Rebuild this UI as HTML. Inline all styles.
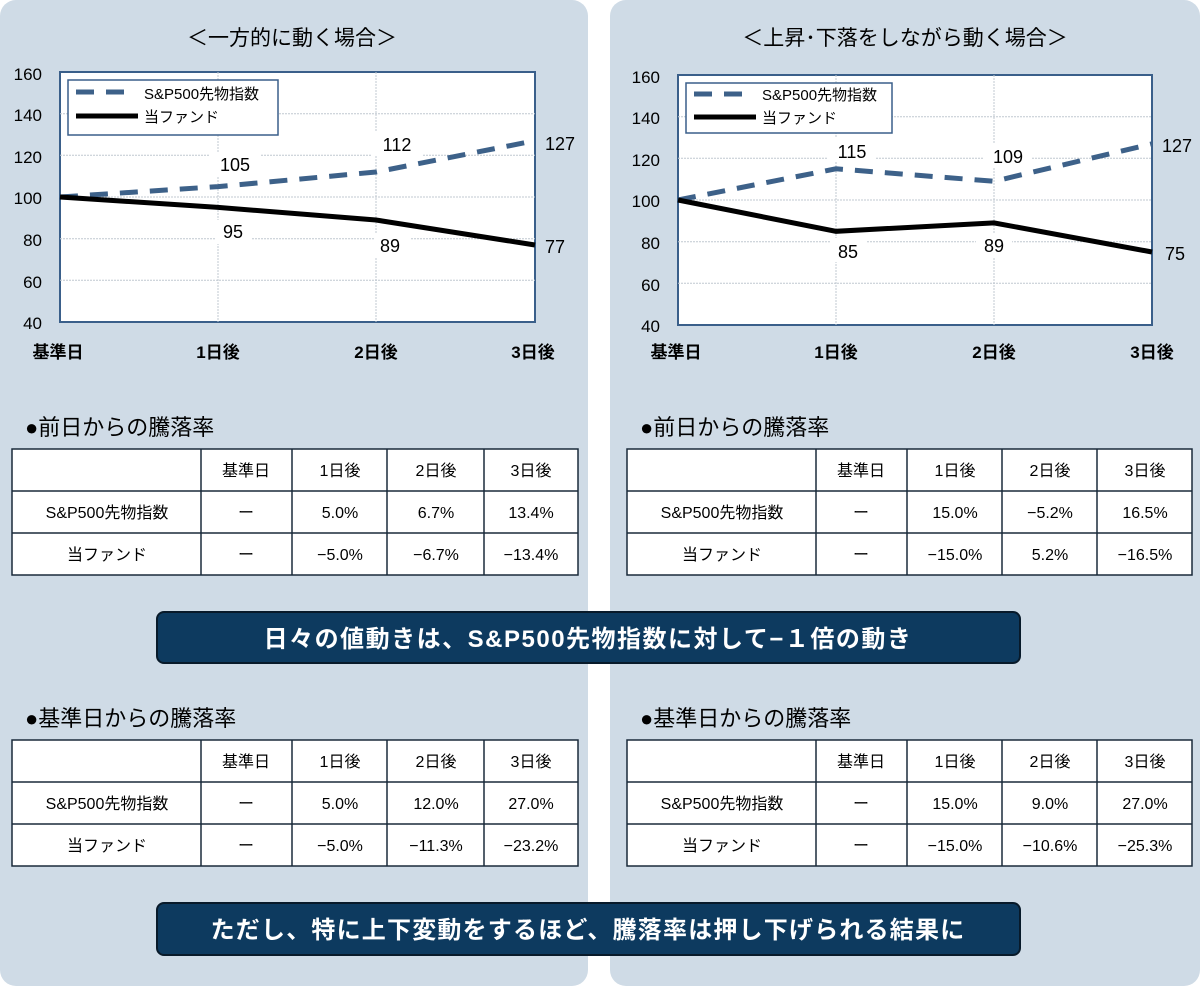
<!DOCTYPE html>
<html><head><meta charset="utf-8"><style>
body{margin:0;background:#fff;}
svg{display:block;font-family:"Liberation Sans","Noto Sans CJK JP",sans-serif;}
</style></head><body>
<svg width="1200" height="988" viewBox="0 0 1200 988">
<rect x="0" y="0" width="1200" height="988" fill="#fff"/>
<rect x="0" y="0" width="588" height="986" rx="16" fill="#cfdbe6"/>
<rect x="610" y="0" width="590" height="986" rx="16" fill="#cfdbe6"/>

<!-- Left chart -->
<g font-size="19" fill="#000">
<text x="292" y="45" text-anchor="middle" font-size="21">＜一方的に動く場合＞</text>
<rect x="60" y="72" width="475" height="250" fill="#fff" stroke="#3a5f8a" stroke-width="2"/>
<g stroke="#c0c8d0" stroke-width="1" stroke-dasharray="2,1">
<line x1="60" y1="113.7" x2="535" y2="113.7"/><line x1="60" y1="155.3" x2="535" y2="155.3"/><line x1="60" y1="197" x2="535" y2="197"/><line x1="60" y1="238.7" x2="535" y2="238.7"/><line x1="60" y1="280.3" x2="535" y2="280.3"/>
<line x1="218" y1="72" x2="218" y2="322"/><line x1="376" y1="72" x2="376" y2="322"/>
</g>
<g text-anchor="end" font-size="17"><text x="42" y="80">160</text><text x="42" y="121">140</text><text x="42" y="163">120</text><text x="42" y="204">100</text><text x="42" y="246">80</text><text x="42" y="288">60</text><text x="42" y="329">40</text></g>
<g text-anchor="middle" font-size="17" font-weight="bold"><text x="58" y="358">基準日</text><text x="218" y="358">1日後</text><text x="376" y="358">2日後</text><text x="533" y="358">3日後</text></g>
<polyline points="60,197 218,186.6 376,172 535,140.7" fill="none" stroke="#3d6189" stroke-width="5" stroke-dasharray="18,12"/>
<polyline points="60,197 218,207.4 376,220 535,245" fill="none" stroke="#000" stroke-width="5"/>
<rect x="210" y="152" width="50" height="24" fill="#fff"/><text x="235" y="171" text-anchor="middle" font-size="18">105</text>
<rect x="372" y="132" width="50" height="24" fill="#fff"/><text x="397" y="151" text-anchor="middle" font-size="18">112</text>
<text x="560" y="150" text-anchor="middle" font-size="18">127</text>
<rect x="215" y="220" width="36" height="24" fill="#fff"/><text x="233" y="238" text-anchor="middle" font-size="18">95</text>
<rect x="374" y="233" width="36" height="24" fill="#fff"/><text x="390" y="252" text-anchor="middle" font-size="18">89</text>
<text x="555" y="253" text-anchor="middle" font-size="18">77</text>
<rect x="68" y="80" width="210" height="55" fill="#fff" stroke="#3a5f8a" stroke-width="1.5"/>
<line x1="76" y1="92" x2="132" y2="92" stroke="#3d6189" stroke-width="5" stroke-dasharray="18,12"/>
<line x1="76" y1="116" x2="138" y2="116" stroke="#000" stroke-width="5"/>
<text x="144" y="99" font-size="15">S&amp;P500先物指数</text><text x="144" y="122" font-size="15">当ファンド</text>
</g>

<!-- Right chart -->
<g font-size="19" fill="#000">
<text x="905" y="45" text-anchor="middle" font-size="21">＜上昇･下落をしながら動く場合＞</text>
<rect x="678" y="75" width="474" height="250" fill="#fff" stroke="#3a5f8a" stroke-width="2"/>
<g stroke="#c0c8d0" stroke-width="1" stroke-dasharray="2,1">
<line x1="678" y1="116.7" x2="1152" y2="116.7"/><line x1="678" y1="158.3" x2="1152" y2="158.3"/><line x1="678" y1="200" x2="1152" y2="200"/><line x1="678" y1="241.7" x2="1152" y2="241.7"/><line x1="678" y1="283.3" x2="1152" y2="283.3"/>
<line x1="836" y1="75" x2="836" y2="325"/><line x1="994" y1="75" x2="994" y2="325"/>
</g>
<g text-anchor="end" font-size="17"><text x="660" y="83">160</text><text x="660" y="124">140</text><text x="660" y="166">120</text><text x="660" y="207">100</text><text x="660" y="249">80</text><text x="660" y="291">60</text><text x="660" y="332">40</text></g>
<g text-anchor="middle" font-size="17" font-weight="bold"><text x="676" y="358">基準日</text><text x="836" y="358">1日後</text><text x="994" y="358">2日後</text><text x="1152" y="358">3日後</text></g>
<polyline points="678,200 836,168.8 994,181.3 1152,143.8" fill="none" stroke="#3d6189" stroke-width="5" stroke-dasharray="18,12"/>
<polyline points="678,200 836,231.3 994,222.9 1152,252" fill="none" stroke="#000" stroke-width="5"/>
<rect x="828" y="138" width="48" height="24" fill="#fff"/><text x="852" y="158" text-anchor="middle" font-size="18">115</text>
<rect x="984" y="144" width="48" height="24" fill="#fff"/><text x="1008" y="163" text-anchor="middle" font-size="18">109</text>
<text x="1177" y="152" text-anchor="middle" font-size="18">127</text>
<rect x="830" y="238" width="36" height="24" fill="#fff"/><text x="848" y="258" text-anchor="middle" font-size="18">85</text>
<rect x="976" y="233" width="36" height="24" fill="#fff"/><text x="994" y="252" text-anchor="middle" font-size="18">89</text>
<text x="1175" y="260" text-anchor="middle" font-size="18">75</text>
<rect x="686" y="83" width="206" height="50" fill="#fff" stroke="#3a5f8a" stroke-width="1.5"/>
<line x1="694" y1="94" x2="750" y2="94" stroke="#3d6189" stroke-width="5" stroke-dasharray="18,12"/>
<line x1="694" y1="117" x2="756" y2="117" stroke="#000" stroke-width="5"/>
<text x="762" y="100" font-size="15">S&amp;P500先物指数</text><text x="762" y="123" font-size="15">当ファンド</text>
</g>

<g font-size="22" fill="#000">
<text x="25" y="435">●前日からの騰落率</text>
<text x="640" y="435">●前日からの騰落率</text>
<text x="25" y="726">●基準日からの騰落率</text>
<text x="640" y="726">●基準日からの騰落率</text>
</g>

<g stroke="#1a2a3a" stroke-width="1.5" fill="#fff">
<rect x="12" y="449" width="566" height="126"/>
<rect x="627" y="449" width="565" height="126"/>
<rect x="12" y="740" width="566" height="126"/>
<rect x="627" y="740" width="565" height="126"/>
</g>
<g stroke="#1a2a3a" stroke-width="1.5">
<line x1="12" y1="491" x2="578" y2="491"/><line x1="12" y1="533" x2="578" y2="533"/>
<line x1="201" y1="449" x2="201" y2="575"/><line x1="292" y1="449" x2="292" y2="575"/><line x1="387" y1="449" x2="387" y2="575"/><line x1="484" y1="449" x2="484" y2="575"/>
<line x1="627" y1="491" x2="1192" y2="491"/><line x1="627" y1="533" x2="1192" y2="533"/>
<line x1="816" y1="449" x2="816" y2="575"/><line x1="907" y1="449" x2="907" y2="575"/><line x1="1002" y1="449" x2="1002" y2="575"/><line x1="1097" y1="449" x2="1097" y2="575"/>
<line x1="12" y1="782" x2="578" y2="782"/><line x1="12" y1="824" x2="578" y2="824"/>
<line x1="201" y1="740" x2="201" y2="866"/><line x1="292" y1="740" x2="292" y2="866"/><line x1="387" y1="740" x2="387" y2="866"/><line x1="484" y1="740" x2="484" y2="866"/>
<line x1="627" y1="782" x2="1192" y2="782"/><line x1="627" y1="824" x2="1192" y2="824"/>
<line x1="816" y1="740" x2="816" y2="866"/><line x1="907" y1="740" x2="907" y2="866"/><line x1="1002" y1="740" x2="1002" y2="866"/><line x1="1097" y1="740" x2="1097" y2="866"/>
</g>
<g font-size="16" text-anchor="middle" fill="#000">
<text x="246" y="476">基準日</text><text x="340" y="476">1日後</text><text x="436" y="476">2日後</text><text x="531" y="476">3日後</text>
<text x="107" y="518">S&amp;P500先物指数</text><text x="246" y="518">ー</text><text x="340" y="518">5.0%</text><text x="436" y="518">6.7%</text><text x="531" y="518">13.4%</text>
<text x="107" y="560">当ファンド</text><text x="246" y="560">ー</text><text x="340" y="560">−5.0%</text><text x="436" y="560">−6.7%</text><text x="531" y="560">−13.4%</text>

<text x="861" y="476">基準日</text><text x="955" y="476">1日後</text><text x="1050" y="476">2日後</text><text x="1145" y="476">3日後</text>
<text x="722" y="518">S&amp;P500先物指数</text><text x="861" y="518">ー</text><text x="955" y="518">15.0%</text><text x="1050" y="518">−5.2%</text><text x="1145" y="518">16.5%</text>
<text x="722" y="560">当ファンド</text><text x="861" y="560">ー</text><text x="955" y="560">−15.0%</text><text x="1050" y="560">5.2%</text><text x="1145" y="560">−16.5%</text>

<text x="246" y="767">基準日</text><text x="340" y="767">1日後</text><text x="436" y="767">2日後</text><text x="531" y="767">3日後</text>
<text x="107" y="809">S&amp;P500先物指数</text><text x="246" y="809">ー</text><text x="340" y="809">5.0%</text><text x="436" y="809">12.0%</text><text x="531" y="809">27.0%</text>
<text x="107" y="851">当ファンド</text><text x="246" y="851">ー</text><text x="340" y="851">−5.0%</text><text x="436" y="851">−11.3%</text><text x="531" y="851">−23.2%</text>

<text x="861" y="767">基準日</text><text x="955" y="767">1日後</text><text x="1050" y="767">2日後</text><text x="1145" y="767">3日後</text>
<text x="722" y="809">S&amp;P500先物指数</text><text x="861" y="809">ー</text><text x="955" y="809">15.0%</text><text x="1050" y="809">9.0%</text><text x="1145" y="809">27.0%</text>
<text x="722" y="851">当ファンド</text><text x="861" y="851">ー</text><text x="955" y="851">−15.0%</text><text x="1050" y="851">−10.6%</text><text x="1145" y="851">−25.3%</text>
</g>

<rect x="157" y="612" width="863" height="51" rx="7" fill="#0d3a5f" stroke="#081a2a" stroke-width="2"/>
<text x="588" y="647" text-anchor="middle" font-size="24" font-weight="bold" fill="#fff" letter-spacing="1.5">日々の値動きは、S&amp;P500先物指数に対して−１倍の動き</text>
<rect x="157" y="903" width="863" height="52" rx="7" fill="#0d3a5f" stroke="#081a2a" stroke-width="2"/>
<text x="588" y="938" text-anchor="middle" font-size="24" font-weight="bold" fill="#fff" letter-spacing="1.2">ただし、特に上下変動をするほど、騰落率は押し下げられる結果に</text>
</svg>
</body></html>
